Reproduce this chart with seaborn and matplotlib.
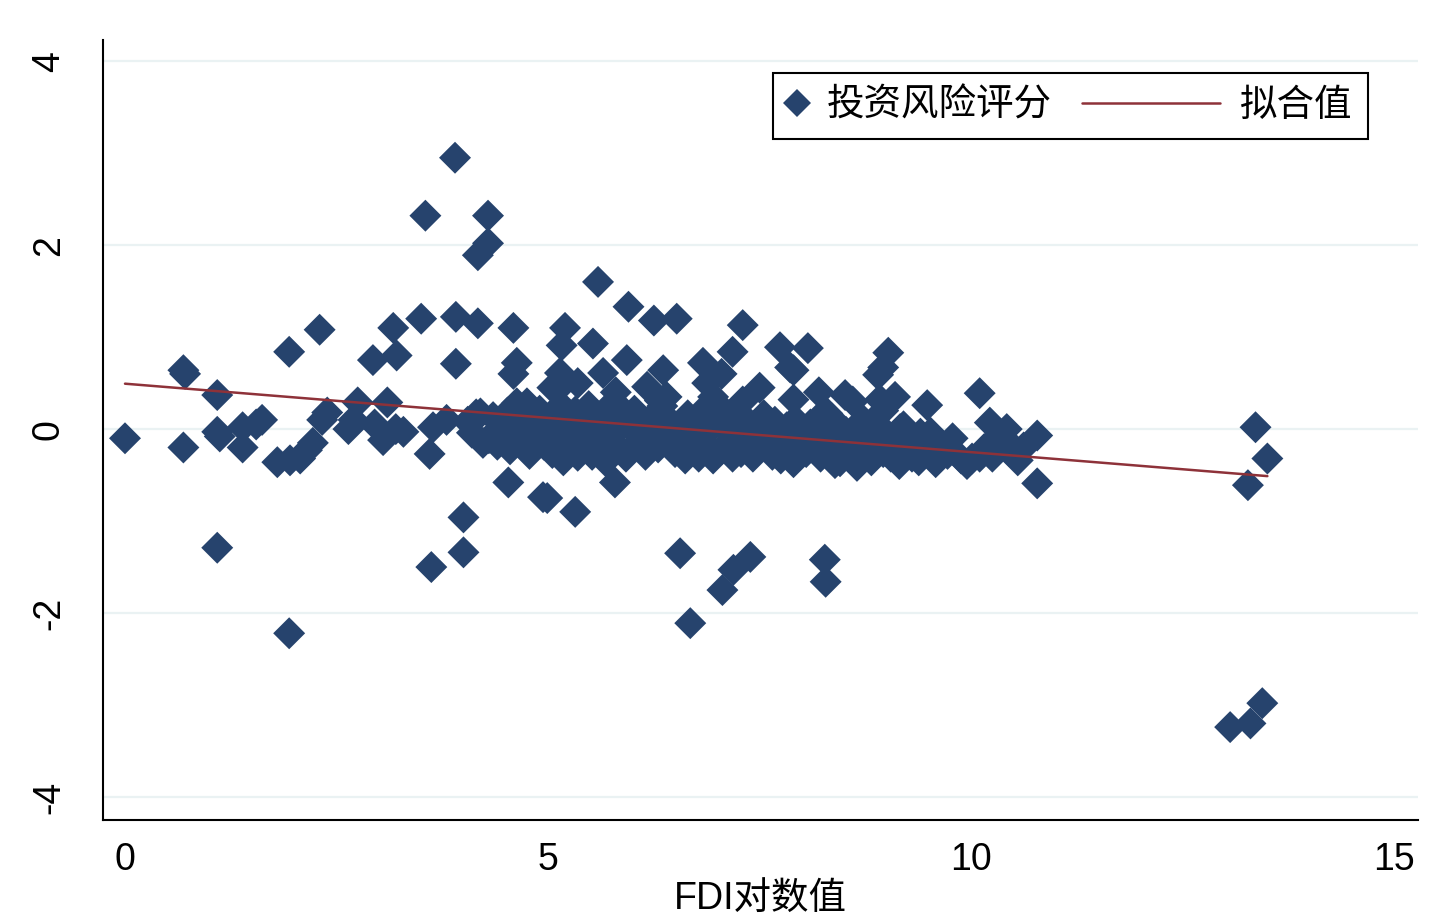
import numpy as np
import pandas as pd
import matplotlib
matplotlib.use("Agg")
import matplotlib.pyplot as plt
import seaborn as sns
from matplotlib.lines import Line2D
from matplotlib.legend_handler import HandlerLine2D

# points, grouped by region
fdi_left = [0.00, 0.69, 0.71, 0.69, 1.09, 1.09, 1.12, 1.09, 1.39, 1.39, 1.55, 1.62, 1.80, 1.94, 1.94,
            1.95, 2.07, 2.15, 2.22, 2.30, 2.33, 2.39, 2.64, 2.70, 2.75, 2.93, 2.95, 3.05, 3.10, 3.17,
            3.21, 3.20, 3.29, 3.50, 3.55, 3.60, 3.64, 3.62, 3.80, 3.91, 3.91, 3.90, 4.00, 4.00]
risk_left = [-0.10, 0.64, 0.60, -0.20, 0.37, -0.03, -0.08, -1.29, -0.20, 0.02, 0.05, 0.10, -0.36, 0.84, -2.22,
             -0.34, -0.32, -0.23, -0.15, 1.08, 0.10, 0.18, 0.00, 0.10, 0.29, 0.75, 0.05, -0.12, 0.29, 1.10,
             0.80, 0.00, -0.03, 1.20, 2.32, -0.27, 0.02, -1.50, 0.10, 1.22, 0.71, 2.95, -0.96, -1.34]

fdi_upper = [4.17, 4.20, 4.23, 4.17, 4.29, 4.29, 4.59, 4.63, 4.59, 4.63, 4.53, 4.55, 4.63, 4.94, 4.99,
             5.32, 5.79, 5.59, 5.95, 6.25, 6.52, 7.30, 7.18, 7.74, 8.07, 7.86, 7.50, 7.90, 8.51, 8.96,
             9.02, 8.90, 8.96, 8.30, 6.83, 6.88, 6.36, 6.32, 5.93, 6.17, 5.65, 5.53, 5.20, 5.16, 5.14,
             5.10, 8.25, 8.92, 9.48, 7.90]
risk_upper = [1.15, 0.17, -0.15, 1.89, 2.02, 2.32, 1.10, 0.72, 0.60, 0.28, -0.58, -0.20, 0.07, -0.74, -0.75,
              -0.90, -0.58, 1.60, 1.33, 1.18, 1.20, 1.13, 0.84, 0.89, 0.88, 0.67, 0.45, 0.32, 0.37, 0.67,
              0.83, 0.59, 0.20, 0.17, 0.72, 0.50, 0.64, 0.31, 0.75, 0.46, 0.61, 0.93, 1.10, 0.91, 0.61,
              0.42, 0.17, 0.32, 0.26, 0.64]

fdi_low = [6.56, 6.68, 7.06, 7.19, 7.39, 8.27, 8.28]
risk_low = [-1.35, -2.11, -1.75, -1.53, -1.39, -1.42, -1.66]

fdi_band = [4.05, 4.10, 4.15, 4.30, 4.35, 4.40,
            4.50, 4.52, 4.55, 4.70, 4.72, 4.75, 4.78, 4.88, 4.90, 4.95, 4.97,
            5.05, 5.08, 5.12, 5.15, 5.18, 5.25, 5.28, 5.32, 5.35, 5.38,
            5.45, 5.48, 5.52, 5.55, 5.58, 5.65, 5.68, 5.72, 5.75, 5.78,
            5.85, 5.88, 5.92, 5.95, 6.02, 6.05, 6.10, 6.15, 6.22, 6.25, 6.30, 6.35,
            6.42, 6.45, 6.50, 6.55, 6.62, 6.65, 6.70, 6.75, 6.78, 6.85, 6.88, 6.92, 6.95,
            7.02, 7.05, 7.10, 7.15, 7.18, 7.25, 7.28, 7.32, 7.35,
            7.42, 7.45, 7.50, 7.55, 7.58, 7.65, 7.68, 7.72, 7.75, 7.82, 7.85, 7.92, 7.95,
            8.02, 8.05, 8.10, 8.15, 8.22, 8.28, 8.32, 8.35, 8.42, 8.45, 8.52, 8.55,
            8.62, 8.65, 8.70, 8.75, 8.82, 8.85, 8.92, 8.95, 9.05, 9.10, 9.15, 9.20,
            9.25, 9.32, 9.38, 9.45, 9.52, 9.58, 9.65, 9.72, 9.78, 9.88, 9.95,
            10.15, 10.25, 10.32, 10.45, 10.55, 10.62,
            5.05, 5.35, 5.80, 6.40, 6.95, 7.05, 7.30, 8.20, 8.60, 9.10]
risk_band = [0.08, -0.04, 0.16, -0.10, 0.13, -0.17,
             0.03, 0.18, -0.22, 0.13, -0.07, 0.28, -0.27, -0.02, 0.20, -0.17, 0.10,
             -0.26, 0.12, -0.08, 0.26, -0.34, 0.04, -0.18, 0.19, -0.29, 0.09,
             -0.10, 0.25, -0.28, 0.08, -0.18, 0.02, -0.35, 0.18, -0.08, 0.30,
             -0.22, 0.10, -0.30, 0.04, 0.20, -0.15, 0.00, -0.28, 0.12, -0.05, -0.20, 0.25,
             -0.12, 0.08, -0.25, 0.00, -0.32, 0.15, -0.10, 0.05, -0.30, 0.22, -0.18, 0.00, -0.32,
             0.10, -0.22, 0.18, -0.05, -0.30, 0.02, -0.25, 0.12, -0.12,
             -0.30, 0.05, -0.18, 0.15, -0.05, -0.28, 0.08, -0.12, -0.32, 0.02, -0.22, 0.10, -0.30,
             -0.08, -0.25, 0.05, -0.15, -0.30, 0.00, -0.20, 0.12, -0.10, -0.35, -0.03, -0.30,
             -0.17, -0.40, -0.27, -0.04, -0.34, -0.12, -0.22, 0.00, -0.30, -0.07, -0.38, 0.03,
             -0.20, -0.10, -0.34, -0.24, -0.04, -0.36, -0.17, -0.27, -0.10, -0.32, -0.38,
             -0.22, -0.30, -0.07, -0.24, -0.34, -0.20,
             0.45, 0.50, 0.40, 0.35, 0.35, 0.60, 0.30, 0.40, 0.30, 0.35]

fdi_right = [10.10, 10.22, 10.42, 10.78, 10.78, 10.10, 10.01, 10.50, 9.67, 9.30, 8.96, 8.39, 7.90, 9.16,
             9.40, 8.72, 13.36, 13.50, 13.27, 13.06, 13.30, 13.44]
risk_right = [0.39, 0.07, 0.00, -0.07, -0.59, -0.30, -0.32, -0.20, -0.20, -0.30, -0.25, -0.37, -0.36, 0.00,
              -0.05, 0.10, 0.02, -0.32, -0.61, -3.24, -3.20, -2.98]

x_ticks = [0, 5, 10, 15]
x_labels = ["0", "5", "10", "15"]
y_ticks = [-4, -2, 0, 2, 4]
y_labels = ["-4", "-2", "0", "2", "4"]

df = pd.DataFrame({
    "fdi": fdi_left + fdi_upper + fdi_low + fdi_band + fdi_right,
    "risk": risk_left + risk_upper + risk_low + risk_band + risk_right,
})

navy = "#26436d"
maroon = "#8e3239"
grid_col = "#eaf2f3"

sns.set_theme(style="white")
plt.rcParams["font.family"] = ["Liberation Sans", "Noto Sans CJK SC"]
plt.rcParams["axes.unicode_minus"] = False
for key in ["text.color", "axes.labelcolor", "xtick.color", "ytick.color"]:
    plt.rcParams[key] = "black"

fig = plt.figure(figsize=(14.43, 9.24), dpi=100)
ax = fig.add_axes([103 / 1443, 104 / 924, 1315 / 1443, 780 / 924])

sns.scatterplot(data=df, x="fdi", y="risk", marker="D", s=265, color=navy,
                edgecolor="none", linewidth=0, ax=ax, zorder=3)
sns.regplot(data=df, x="fdi", y="risk", scatter=False, ci=None, truncate=True,
            color=maroon, line_kws=dict(lw=1.8, zorder=4), ax=ax)

ax.set_xlim(-0.26, 15.28)
ax.set_ylim(-4.25, 4.23)
ax.set_xticks(x_ticks)
ax.set_xticklabels(x_labels, fontsize=27)
ax.set_yticks(y_ticks)
ax.set_yticklabels(y_labels, fontsize=27, rotation=90, va="center")
ax.tick_params(axis="both", length=10, width=1.5, color="black", labelcolor="black", direction="out")
ax.tick_params(axis="x", pad=6)
ax.tick_params(axis="y", pad=16)
ax.set_xlabel("FDI对数值", fontsize=27, labelpad=2, color="black")
ax.set_ylabel("")

ax.set_axisbelow(True)
ax.yaxis.grid(True, color=grid_col, lw=1.6)
ax.xaxis.grid(False)
for side in ["top", "right"]:
    ax.spines[side].set_visible(False)
for side in ["left", "bottom"]:
    ax.spines[side].set_color("black")
    ax.spines[side].set_linewidth(1.5)


class LongLine(HandlerLine2D):
    # stretch the line key to the left, like the Stata legend
    def create_artists(self, legend, orig_handle, xdescent, ydescent, width, height, fontsize, trans):
        extra = 3.2 * fontsize
        return super().create_artists(legend, orig_handle, xdescent + extra, ydescent,
                                      width + extra, height, fontsize, trans)


h_pts = Line2D([], [], marker="D", linestyle="none", color=navy, markersize=14.5, markeredgewidth=0)
h_fit = Line2D([], [], color=maroon, lw=1.8)
leg = ax.legend([h_pts, h_fit], ["投资风险评分", "拟合值"], ncol=2, fontsize=27,
                loc="upper left", bbox_to_anchor=(773 / 1443, 1 - 73 / 924),
                bbox_transform=fig.transFigure, frameon=True, fancybox=False,
                edgecolor="black", framealpha=1, borderpad=0.4, handlelength=0.48,
                handletextpad=0.55, columnspacing=4.0, borderaxespad=0,
                handler_map={h_fit: LongLine()})
leg.get_frame().set_linewidth(1.5)
for t in leg.get_texts():
    t.set_color("black")

fig.savefig("out.png", dpi=100)
